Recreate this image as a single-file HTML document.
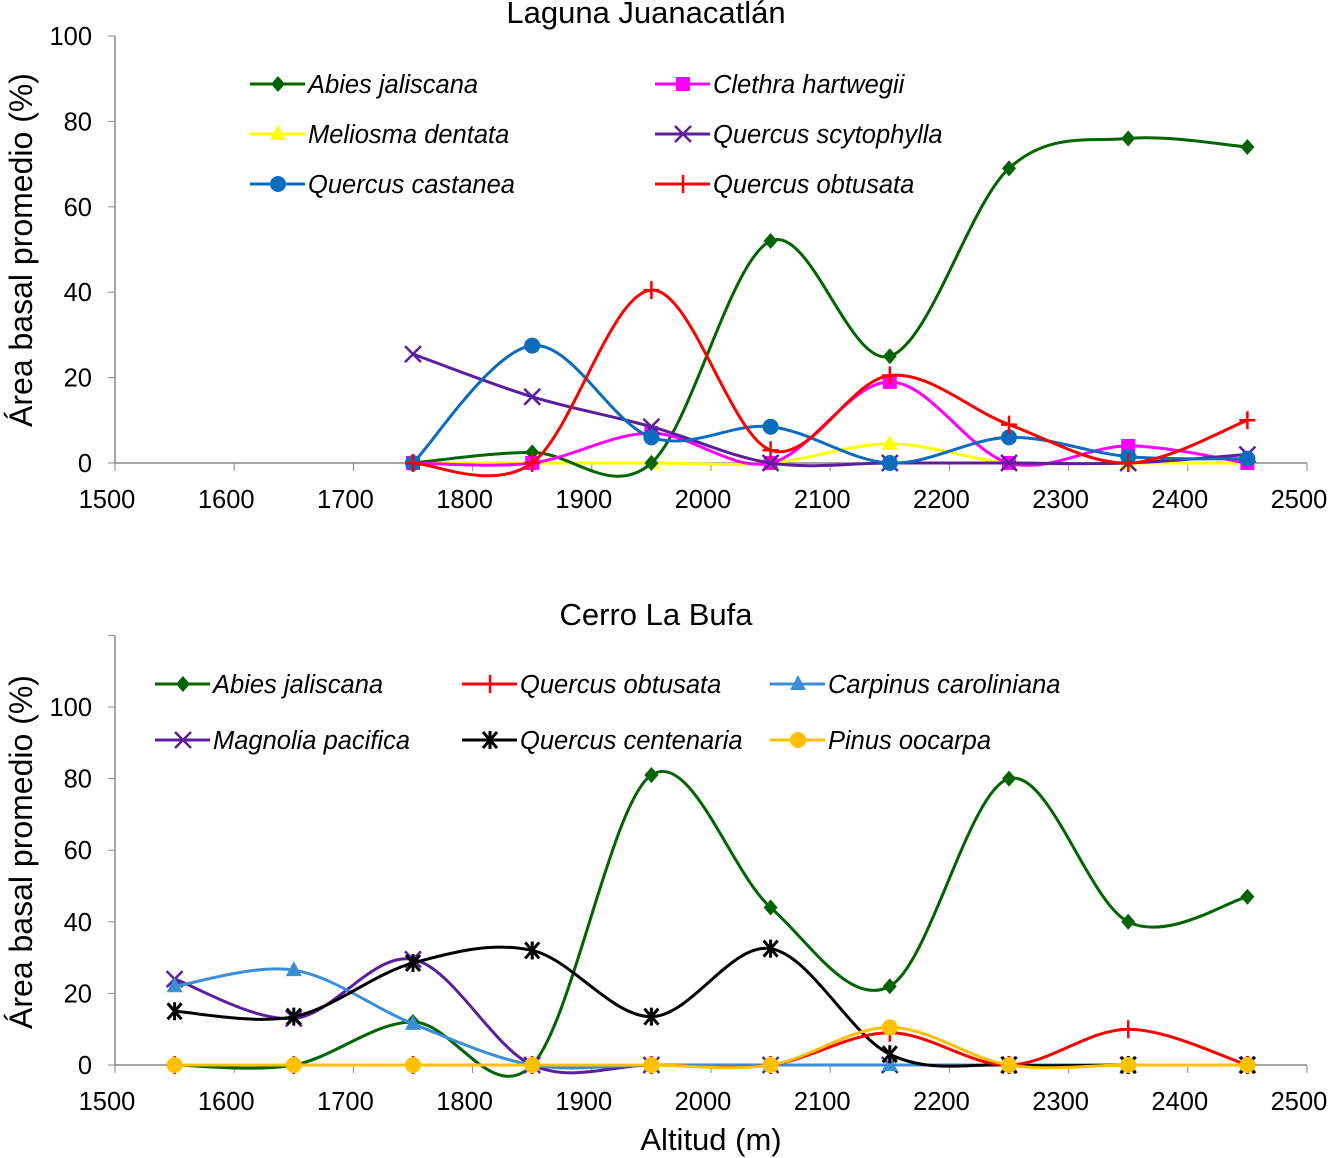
<!DOCTYPE html>
<html><head><meta charset="utf-8"><style>
body{margin:0;background:#fff;}
svg{display:block;font-family:"Liberation Sans",Arial,sans-serif;}
</style></head><body>
<svg id="c" width="1338" height="1158"></svg>
<script>
const xTicks=[1500,1600,1700,1800,1900,2000,2100,2200,2300,2400,2500];
const topX=[1750,1850,1950,2050,2150,2250,2350,2450];
const topAbies=[0,2.5,0,52,25,69,76,74];
const topClethra=[0,0,7,0,19,0,4,0];
const topMeliosma=[0,0,0,0,4.5,0,0,0];
const topScyto=[25.5,15.5,8.5,0,0,0,0,2];
const topCastanea=[0,27.5,6,8.5,0,6,1.5,1];
const topObtusata=[0,0,40.5,3,20.5,9,0,10];
const botX=[1550,1650,1750,1850,1950,2050,2150,2250,2350,2450];
const botAbies=[0,0,12,0,81,44,22,80,40,47];
const botObtusata=[0,0,0,0,0,0,9,0,10,0];
const botCarpinus=[22,26.5,11.5,0,0,0,0,0,0,0];
const botMagnolia=[24,13,29.5,0,0,0,0,0,0,0];
const botCentenaria=[15,13.5,28.5,32,13.5,32.5,3,0,0,0];
const botPinus=[0,0,0,0,0,0,10.5,0,0,0];
const topYTicks=[0,20,40,60,80,100];
const botYTicks=[0,20,40,60,80,100];

const NS="http://www.w3.org/2000/svg";
const svg=document.getElementById('c');
function el(t,a,p){const e=document.createElementNS(NS,t);for(const k in a)e.setAttribute(k,a[k]);(p||svg).appendChild(e);return e;}
function txt(s,a,p){const e=el('text',a,p);e.textContent=s;return e;}
function smooth(pts){let d=`M${pts[0][0]},${pts[0][1]}`;const t=1/6;
 for(let i=0;i<pts.length-1;i++){const p0=pts[Math.max(0,i-1)],p1=pts[i],p2=pts[i+1],p3=pts[Math.min(pts.length-1,i+2)];
 d+=` C${p1[0]+(p2[0]-p0[0])*t},${p1[1]+(p2[1]-p0[1])*t} ${p2[0]-(p3[0]-p1[0])*t},${p2[1]-(p3[1]-p1[1])*t} ${p2[0]},${p2[1]}`;}return d;}
function marker(g,type,x,y,c){
 if(type==='diamond')el('polygon',{points:`${x},${y-8} ${x+7},${y} ${x},${y+8} ${x-7},${y}`,fill:c},g);
 else if(type==='square')el('rect',{x:x-7,y:y-7,width:14,height:14,fill:c},g);
 else if(type==='tri')el('polygon',{points:`${x},${y-9} ${x+8},${y+6} ${x-8},${y+6}`,fill:c},g);
 else if(type==='circle')el('circle',{cx:x,cy:y,r:8,fill:c},g);
 else if(type==='x'){el('path',{d:`M${x-8},${y-8}L${x+8},${y+8}M${x+8},${y-8}L${x-8},${y+8}`,stroke:c,'stroke-width':2.5},g);}
 else if(type==='plus'){el('path',{d:`M${x-8},${y}L${x+8},${y}M${x},${y-9}L${x},${y+9}`,stroke:c,'stroke-width':2.5},g);}
 else if(type==='star'){el('path',{d:`M${x-7},${y-8}L${x+7},${y+8}M${x+7},${y-8}L${x-7},${y+8}M${x},${y-9}L${x},${y+9}`,stroke:c,'stroke-width':3},g);}
}
function panel(o){
 const sx=v=>115+(v-1500)*1.192, sy=v=>o.y0-v*o.k;
 const g=el('g',{},svg);
 txt(o.title,{x:o.tx,y:o.ty,'font-size':31,'text-anchor':'middle',fill:'#000'},g);
 el('line',{x1:115,y1:o.y0,x2:115,y2:sy(o.ymax),stroke:'#888','stroke-width':1.5},g);
 el('line',{x1:115,y1:o.y0,x2:1307,y2:o.y0,stroke:'#888','stroke-width':1.5},g);
 o.yt.forEach(v=>{el('line',{x1:108,y1:sy(v),x2:115,y2:sy(v),stroke:'#888'},g);
  txt(String(v),{x:92,y:sy(v)+9,'font-size':25.5,'text-anchor':'end'},g);});
 if(o.ymax>100)el('line',{x1:108,y1:sy(o.ymax),x2:115,y2:sy(o.ymax),stroke:'#888'},g);
 xTicks.forEach(v=>{el('line',{x1:sx(v),y1:o.y0,x2:sx(v),y2:o.y0+8,stroke:'#888'},g);
  txt(String(v),{x:sx(v)-8,y:o.y0+45,'font-size':25.5,'text-anchor':'middle'},g);});
 const yt=txt('Área basal promedio (%)',{x:0,y:0,'font-size':32,'text-anchor':'middle',transform:`translate(32,${o.ymid}) rotate(-90)`},g);
 
 o.series.forEach(s=>{
  const sg=el('g',{},g);
  const pts=o.xs.map((x,i)=>[sx(x),sy(s.v[i])]);
  el('path',{d:smooth(pts),fill:'none',stroke:s.c,'stroke-width':3},sg);
  pts.forEach(p=>marker(sg,s.m,p[0],p[1],s.c));
  const lg=el('g',{},g);
  el('line',{x1:s.lx,y1:s.ly,x2:s.lx+55,y2:s.ly,stroke:s.c,'stroke-width':3},lg);
  marker(lg,s.m,s.lx+28,s.ly,s.c);
  txt(s.label,{x:s.lx+58,y:s.ly+9,'font-size':25.5,'font-style':'italic'},lg);
 });
}
panel({name:'laguna-juanacatlan-panel',title:'Laguna Juanacatlán',tx:646,ty:23,y0:463,k:4.27,ymax:100,ymid:250,yt:topYTicks,xs:topX,series:[
 {id:'meliosma',v:topMeliosma,c:'#ffff00',m:'tri',label:'Meliosma dentata',lx:250,ly:134},
 {id:'abies',v:topAbies,c:'#006400',m:'diamond',label:'Abies jaliscana',lx:250,ly:84},
 {id:'clethra',v:topClethra,c:'#ff00ff',m:'square',label:'Clethra hartwegii',lx:655,ly:84},
 {id:'scytophylla',v:topScyto,c:'#5b1f9e',m:'x',label:'Quercus scytophylla',lx:655,ly:134},
 {id:'castanea',v:topCastanea,c:'#0b6bbf',m:'circle',label:'Quercus castanea',lx:250,ly:184},
 {id:'obtusata',v:topObtusata,c:'#ff0000',m:'plus',label:'Quercus obtusata',lx:655,ly:184}]});
panel({name:'cerro-la-bufa-panel',title:'Cerro La Bufa',tx:656,ty:625,y0:1065,k:3.58,ymax:120,ymid:852,yt:botYTicks,xs:botX,series:[
 {id:'abies',v:botAbies,c:'#006400',m:'diamond',label:'Abies jaliscana',lx:155,ly:684},
 {id:'magnolia',v:botMagnolia,c:'#5b1f9e',m:'x',label:'Magnolia pacifica',lx:155,ly:740},
 {id:'carpinus',v:botCarpinus,c:'#3c8fd6',m:'tri',label:'Carpinus caroliniana',lx:770,ly:684},
 {id:'centenaria',v:botCentenaria,c:'#000000',m:'star',label:'Quercus centenaria',lx:462,ly:740},
 {id:'obtusata',v:botObtusata,c:'#ff0000',m:'plus',label:'Quercus obtusata',lx:462,ly:684},
 {id:'pinus',v:botPinus,c:'#ffc000',m:'circle',label:'Pinus oocarpa',lx:770,ly:740}]});
const xl=txt('Altitud (m)',{x:711,y:1150,'font-size':31,'text-anchor':'middle'});


</script>
</body></html>
